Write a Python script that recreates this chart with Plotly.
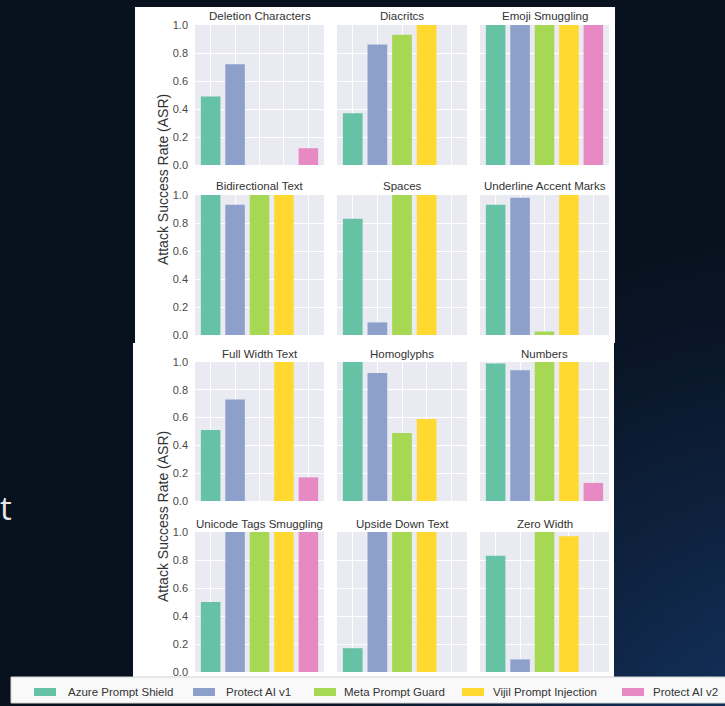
import base64
import struct
import zlib

import plotly.graph_objects as go

W, H = 725, 706

# ---- data -----------------------------------------------------------------
techniques = [
    "Deletion Characters", "Diacritcs", "Emoji Smuggling",
    "Bidirectional Text", "Spaces", "Underline Accent Marks",
    "Full Width Text", "Homoglyphs", "Numbers",
    "Unicode Tags Smuggling", "Upside Down Text", "Zero Width",
]
series_names = [
    "Azure Prompt Shield", "Protect AI v1", "Meta Prompt Guard",
    "Vijil Prompt Injection", "Protect AI v2",
]
azure_prompt_shield = [0.49, 0.37, 1.00, 1.00, 0.83, 0.93, 0.51, 1.00, 0.99, 0.50, 0.17, 0.83]
protect_ai_v1 = [0.72, 0.86, 1.00, 0.93, 0.09, 0.98, 0.73, 0.92, 0.94, 1.00, 1.00, 0.09]
meta_prompt_guard = [0.00, 0.93, 1.00, 1.00, 1.00, 0.025, 0.00, 0.49, 1.00, 1.00, 1.00, 1.00]
vijil_prompt_injection = [0.00, 1.00, 1.00, 1.00, 1.00, 1.00, 1.00, 0.59, 1.00, 1.00, 1.00, 0.97]
protect_ai_v2 = [0.12, 0.00, 1.00, 0.00, 0.00, 0.00, 0.17, 0.00, 0.13, 1.00, 0.00, 0.00]
y_ticks = [0.0, 0.2, 0.4, 0.6, 0.8, 1.0]
y_label = "Attack Success Rate (ASR)"
side_text = "t"

series_values = [azure_prompt_shield, protect_ai_v1, meta_prompt_guard,
                 vijil_prompt_injection, protect_ai_v2]

# ---- styling --------------------------------------------------------------
series_colors = ["#66c2a5", "#8da0cb", "#a6d854", "#ffd92f", "#e78ac3"]
FONT = "Liberation Sans, Arial, sans-serif"
BG_DARK = (8, 17, 30)
BG_BLUE = (22, 58, 110)

col_px = [(195, 324), (337, 467), (480, 609)]
row_px = [(25, 165), (195, 335), (362, 501), (532, 672)]


def fx(px):
    return px / W


def fy(py):
    return 1 - py / H


def gradient_png(w, h):
    """Small PNG with a dark-navy to blue glow towards the lower right."""
    rows = []
    for j in range(h):
        line = bytearray([0])
        Y = (j + 0.5) * H / h
        for i in range(w):
            X = (i + 0.5) * W / w
            d = ((X - 800) ** 2 + (Y - 800) ** 2) ** 0.5
            t = max(0.0, 1 - d / 580) ** 1.25
            for a, b in zip(BG_DARK, BG_BLUE):
                line.append(int(round(a + (b - a) * t)))
        rows.append(bytes(line))
    raw = b"".join(rows)

    def chunk(tag, data):
        return (struct.pack(">I", len(data)) + tag + data
                + struct.pack(">I", zlib.crc32(tag + data) & 0xFFFFFFFF))

    png = (b"\x89PNG\r\n\x1a\n"
           + chunk(b"IHDR", struct.pack(">IIBBBBB", w, h, 8, 2, 0, 0, 0))
           + chunk(b"IDAT", zlib.compress(raw, 9))
           + chunk(b"IEND", b""))
    return "data:image/png;base64," + base64.b64encode(png).decode()


fig = go.Figure()
shapes = []
annotations = []

# white card panels behind the two 2x3 grids
shapes.append(dict(type="rect", xref="paper", yref="paper", layer="below",
                   x0=fx(135), x1=fx(615), y0=fy(343), y1=fy(7),
                   fillcolor="white", line=dict(width=0)))
shapes.append(dict(type="rect", xref="paper", yref="paper", layer="below",
                   x0=fx(133), x1=fx(614), y0=fy(680), y1=fy(343),
                   fillcolor="white", line=dict(width=0)))

layout = dict(
    template="none",
    width=W, height=H, autosize=False,
    margin=dict(l=0, r=0, t=0, b=0, pad=0, autoexpand=False),
    paper_bgcolor="rgb(%d,%d,%d)" % BG_DARK,
    plot_bgcolor="#eaeaf2",
    showlegend=False,
    font=dict(family=FONT),
)

for i, name in enumerate(techniques):
    k = i + 1
    sfx = "" if k == 1 else str(k)
    r, c = divmod(i, 3)
    x0, x1 = col_px[c]
    ytop, ybot = row_px[r]

    fig.add_trace(go.Bar(
        x=list(range(len(series_names))),
        y=[vals[i] for vals in series_values],
        width=0.8,
        marker=dict(color=series_colors, line=dict(width=0)),
        xaxis="x" + sfx, yaxis="y" + sfx,
        hovertext=series_names, showlegend=False,
    ))

    layout["xaxis" + sfx] = dict(
        domain=[fx(x0), fx(x1)], anchor="y" + sfx, automargin=False,
        range=[-0.64, 4.64], tickvals=list(range(5)), showticklabels=False,
        showgrid=True, gridcolor="white", gridwidth=1,
        zeroline=False, showline=False, ticks="",
    )
    layout["yaxis" + sfx] = dict(
        domain=[fy(ybot), fy(ytop)], anchor="x" + sfx, automargin=False,
        range=[0, 1], tickvals=y_ticks,
        ticktext=["%.1f" % v for v in y_ticks],
        showticklabels=(c == 0), ticks="", ticklabelstandoff=6,
        tickfont=dict(family=FONT, size=11, color="#4a4a4a"),
        showgrid=True, gridcolor="white", gridwidth=1,
        zeroline=False, showline=False,
    )

    # grey axes background (drawn under the grid, above the white card)
    shapes.append(dict(type="rect", xref="x%s domain" % sfx, yref="y%s domain" % sfx,
                       layer="below", x0=0, x1=1, y0=0, y1=1,
                       fillcolor="#eaeaf2", line=dict(width=0)))

    annotations.append(dict(
        text=name, xref="paper", yref="paper",
        x=fx((x0 + x1) / 2), y=fy(ytop - 8.5),
        xanchor="center", yanchor="middle", showarrow=False,
        font=dict(family=FONT, size=11.5, color="#333333"),
    ))

# shared y-axis label, one per card
for yc in [(row_px[0][0] + row_px[1][1]) / 2, (row_px[2][0] + row_px[3][1]) / 2]:
    annotations.append(dict(
        text=y_label, xref="paper", yref="paper",
        x=fx(163), y=fy(yc), textangle=-90,
        xanchor="center", yanchor="middle", showarrow=False,
        font=dict(family=FONT, size=14, color="#333333"),
    ))

# legend strip along the bottom
shapes.append(dict(type="rect", xref="paper", yref="paper", layer="above",
                   x0=fx(11), x1=fx(745), y0=fy(703), y1=fy(677),
                   fillcolor="#f9f9f9", line=dict(color="#d4d4d4", width=1)))
patch_x = [34, 193, 314, 462, 622]
label_x = [66, 224, 342, 491, 651]
for name, color, px0, lx in zip(series_names, series_colors, patch_x, label_x):
    shapes.append(dict(type="rect", xref="paper", yref="paper", layer="above",
                       x0=fx(px0), x1=fx(px0 + 22), y0=fy(696), y1=fy(688),
                       fillcolor=color, line=dict(width=0)))
    annotations.append(dict(
        text=name, xref="paper", yref="paper", x=fx(lx), y=fy(692),
        xanchor="left", yanchor="middle", showarrow=False,
        font=dict(family=FONT, size=11.5, color="#333333"),
    ))

# slide text at the left edge
annotations.append(dict(
    text=side_text, xref="paper", yref="paper", x=fx(-2), y=fy(507),
    xanchor="left", yanchor="middle", showarrow=False,
    font=dict(family="Open Sans, sans-serif", size=33, color="#e8e8e8"),
))

layout["shapes"] = shapes
layout["annotations"] = annotations
layout["images"] = [dict(
    source=gradient_png(145, 141), xref="paper", yref="paper",
    x=0, y=1, sizex=1, sizey=1, xanchor="left", yanchor="top",
    sizing="stretch", layer="below",
)]

fig.update_layout(**layout)
fig.write_html("out.html")
